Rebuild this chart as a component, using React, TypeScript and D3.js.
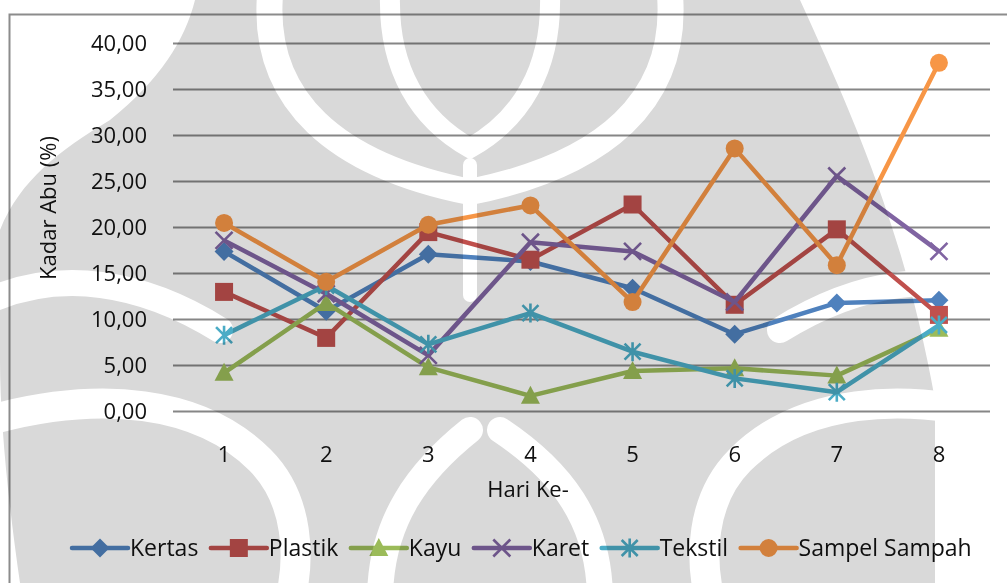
import React from 'react';
import * as d3 from 'd3';

// Days of sampling and ash content (%) per waste component
const days = ['1', '2', '3', '4', '5', '6', '7', '8'];
const kertas = [17.4, 10.9, 17.1, 16.3, 13.4, 8.4, 11.8, 12.1];
const plastik = [13.0, 8.0, 19.5, 16.5, 22.5, 11.6, 19.8, 10.5];
const kayu = [4.2, 11.8, 4.8, 1.7, 4.4, 4.7, 3.9, 9.0];
const karet = [18.6, 12.8, 6.1, 18.4, 17.4, 11.9, 25.6, 17.4];
const tekstil = [8.3, 13.7, 7.3, 10.7, 6.5, 3.6, 2.1, 9.4];
const sampelSampah = [20.5, 14.1, 20.3, 22.4, 11.9, 28.6, 15.9, 37.9];
const yTicks = [0, 5, 10, 15, 20, 25, 30, 35, 40];

type Marker = 'diamond' | 'square' | 'triangle' | 'x' | 'star' | 'circle';
const series: { name: string; values: number[]; color: string; marker: Marker }[] = [
  { name: 'Kertas', values: kertas, color: '#4F81BD', marker: 'diamond' },
  { name: 'Plastik', values: plastik, color: '#C0504D', marker: 'square' },
  { name: 'Kayu', values: kayu, color: '#9BBB59', marker: 'triangle' },
  { name: 'Karet', values: karet, color: '#8064A2', marker: 'x' },
  { name: 'Tekstil', values: tekstil, color: '#4BACC6', marker: 'star' },
  { name: 'Sampel Sampah', values: sampelSampah, color: '#F79646', marker: 'circle' },
];

const W = 1007;
const H = 583;
const plot = { left: 173, right: 990, top: 43.5, bottom: 411.5 };
const FONT = '"Open Sans", "DejaVu Sans", sans-serif';
const TEXT = '#111';

const x = d3.scaleBand<string>().domain(days).range([plot.left, plot.right]);
const y = d3.scaleLinear().domain([0, 40]).range([plot.bottom, plot.top]);
const cx = (d: string) => (x(d) ?? 0) + x.bandwidth() / 2;

const fmt = (v: number) => d3.format('.2f')(v).replace('.', ',');

function markerShape(m: Marker, color: string, px: number, py: number, key: string) {
  const t = `translate(${px},${py})`;
  switch (m) {
    case 'diamond':
      return <path key={key} transform={t} d="M0,-9.5L9.5,0L0,9.5L-9.5,0Z" fill={color} />;
    case 'square':
      return <rect key={key} x={px - 9} y={py - 9} width={18} height={18} fill={color} />;
    case 'triangle':
      return <path key={key} transform={t} d="M0,-10L9.5,8L-9.5,8Z" fill={color} />;
    case 'circle':
      return <circle key={key} cx={px} cy={py} r={9} fill={color} />;
    case 'x':
      return (
        <path key={key} transform={t} d="M-8.5,-8.5L8.5,8.5M8.5,-8.5L-8.5,8.5" stroke={color} strokeWidth={2.6} fill="none" />
      );
    case 'star':
      return (
        <path key={key} transform={t} d="M-8,-8L8,8M8,-8L-8,8M0,-9.5L0,9.5" stroke={color} strokeWidth={2.6} fill="none" />
      );
  }
}

function textWidth(t: string, font: string) {
  const ctx = document.createElement('canvas').getContext('2d');
  if (!ctx) return t.length * 11;
  ctx.font = font;
  return ctx.measureText(t).width;
}

// Light grey emblem printed behind the page
const WM_GREY = '#d9d9d9';
const wmFill = [
  'M195,0 L800,0 C850,110 905,230 935,400 L935,583 L20,583 C8,500 0,420 0,360 L0,230 C20,180 60,150 110,120 C160,80 185,40 195,0 Z',
];
const wmWhiteBands: { d: string; w: number }[] = [
  { d: 'M270,-5 C262,100 335,165 470,192 C605,165 678,100 670,-5', w: 26 },
  { d: 'M390,-5 C388,70 420,120 470,148 C520,120 552,70 550,-5', w: 20 },
  { d: 'M470,165 L470,295', w: 14 },
  { d: 'M-10,300 C60,270 140,280 220,330', w: 26 },
  { d: 'M-10,420 C100,390 200,400 260,460 C300,500 300,560 290,600', w: 30 },
  { d: 'M1010,300 C940,270 860,280 780,330', w: 26 },
  { d: 'M1010,420 C900,390 800,400 740,460 C700,500 700,560 710,600', w: 30 },
  { d: 'M380,600 C380,520 420,470 470,430', w: 26 },
  { d: 'M600,600 C600,520 560,470 500,430', w: 26 },
];

export default function App() {
  const line = d3
    .line<number>()
    .x((_, i) => cx(days[i]))
    .y((v) => y(v));

  let lx = 72;
  const legendItems = series.map((s) => {
    const start = lx;
    const tw = textWidth(s.name, `23px "Open Sans"`);
    lx = start + 58 + tw + 12.5;
    return { s, start, tw };
  });

  return (
    <div style={{ position: 'absolute', left: 0, top: 0 }}>
      <svg width={W} height={H} viewBox={`0 0 ${W} ${H}`} style={{ display: 'block', background: '#fff' }}>
        {/* chart frame */}
        <rect x={9.5} y={14.5} width={1020} height={600} fill="none" stroke="#8c8c8c" strokeWidth={2} />

        {/* horizontal gridlines */}
        {yTicks.map((t) => (
          <line key={t} x1={plot.left} x2={plot.right} y1={y(t)} y2={y(t)} stroke="#868686" strokeWidth={2} />
        ))}

        {/* y tick labels */}
        {yTicks.map((t) => (
          <text key={t} x={147} y={y(t)} dy="0.36em" textAnchor="end" fontFamily={FONT} fontSize={22} fill={TEXT}>
            {fmt(t)}
          </text>
        ))}

        {/* x tick labels */}
        {days.map((d) => (
          <text key={d} x={cx(d)} y={454} dy="0.36em" textAnchor="middle" fontFamily={FONT} fontSize={22} fill={TEXT}>
            {d}
          </text>
        ))}

        <text x={528} y={489} dy="0.36em" textAnchor="middle" fontFamily={FONT} fontSize={22} fill={TEXT}>
          Hari Ke-
        </text>
        <text
          transform={`translate(48,208) rotate(-90)`}
          dy="0.36em"
          textAnchor="middle"
          fontFamily={FONT}
          fontSize={22}
          fill={TEXT}
        >
          Kadar Abu (%)
        </text>

        {/* series */}
        {series.map((s) => (
          <g key={s.name}>
            <path d={line(s.values) ?? ''} fill="none" stroke={s.color} strokeWidth={4.5} strokeLinejoin="round" />
            {s.values.map((v, i) => markerShape(s.marker, s.color, cx(days[i]), y(v), `${s.name}-${i}`))}
          </g>
        ))}

        {/* legend */}
        {legendItems.map(({ s, start }) => (
          <g key={s.name}>
            <line x1={start} x2={start + 56} y1={548} y2={548} stroke={s.color} strokeWidth={4.5} strokeLinecap="round" />
            {markerShape(s.marker, s.color, start + 28, 548, `lg-${s.name}`)}
            <text x={start + 58} y={548} dy="0.36em" fontFamily={FONT} fontSize={23} fill={TEXT}>
              {s.name}
            </text>
          </g>
        ))}

        {/* emblem overlay */}
        <g style={{ mixBlendMode: 'multiply' }}>
          {wmFill.map((d, i) => (
            <path key={i} d={d} fill={WM_GREY} />
          ))}
          {wmWhiteBands.map((b, i) => (
            <path key={i} d={b.d} fill="none" stroke="#fff" strokeWidth={b.w} strokeLinecap="round" />
          ))}
        </g>
      </svg>
    </div>
  );
}
